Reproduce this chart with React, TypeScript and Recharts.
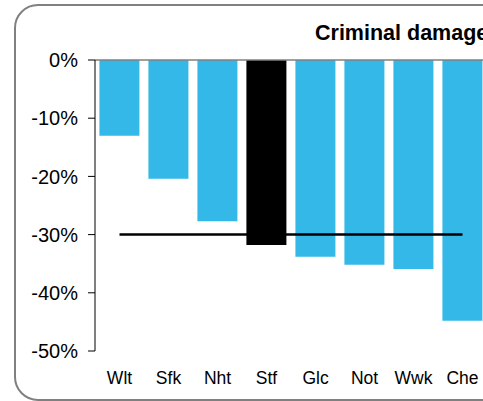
import React from "react";
import { ComposedChart, Bar, Line, XAxis, YAxis, Cell, ReferenceLine } from "recharts";

const categories = ["Wlt", "Sfk", "Nht", "Stf", "Glc", "Not", "Wwk", "Che"];
const changes = [-13.0, -20.4, -27.7, -31.8, -33.8, -35.2, -35.9, -44.8];
const average = [-30, -30, -30, -30, -30, -30, -30, -30];
const highlight = "Stf";
const yTicks = [0, -10, -20, -30, -40, -50];

const data = categories.map((c, i) => ({ name: c, value: changes[i], avg: average[i] }));

const FONT = "'Liberation Sans', Arial, sans-serif";

export default function App() {
  return (
    <div style={{ position: "absolute", left: 0, top: 0, width: 483, height: 401, overflow: "hidden", background: "#fff", fontFamily: FONT }}>
      <div style={{ position: "absolute", left: 14, top: 4, width: 520, height: 397, border: "2px solid #808080", borderRadius: 24, boxSizing: "border-box" }} />
      <div style={{ position: "absolute", left: 315, top: 23, fontSize: 21.5, lineHeight: "21.5px", fontWeight: "bold", whiteSpace: "nowrap", color: "#000" }}>
        Criminal damage
      </div>
      <div style={{ position: "absolute", left: 0, top: 0 }}>
        <ComposedChart width={520} height={401} data={data} margin={{ top: 60, right: 33, left: 8, bottom: 20 }} barCategoryGap="9%">
          <XAxis dataKey="name" axisLine={false} tickLine={false} tickSize={0} tickMargin={21} height={30}
            tick={{ fontSize: 17.5, fill: "#000", fontFamily: FONT }} interval={0} />
          <YAxis domain={[-50, 0]} ticks={yTicks} width={87} tickSize={7} tickMargin={10}
            axisLine={{ stroke: "#000", strokeWidth: 1 }} tickLine={{ stroke: "#000" }}
            tickFormatter={(v: number) => `${v}%`} tick={{ fontSize: 20, fill: "#000", fontFamily: FONT }} />
          <Bar dataKey="value" isAnimationActive={false}>
            {data.map((d) => (
              <Cell key={d.name} fill={d.name === highlight ? "#000000" : "#33B8E8"} />
            ))}
          </Bar>
          <ReferenceLine y={0} stroke="#808080" strokeWidth={1.5} />
          <Line dataKey="avg" stroke="#000" strokeWidth={2.5} dot={false} isAnimationActive={false} />
        </ComposedChart>
      </div>
    </div>
  );
}
